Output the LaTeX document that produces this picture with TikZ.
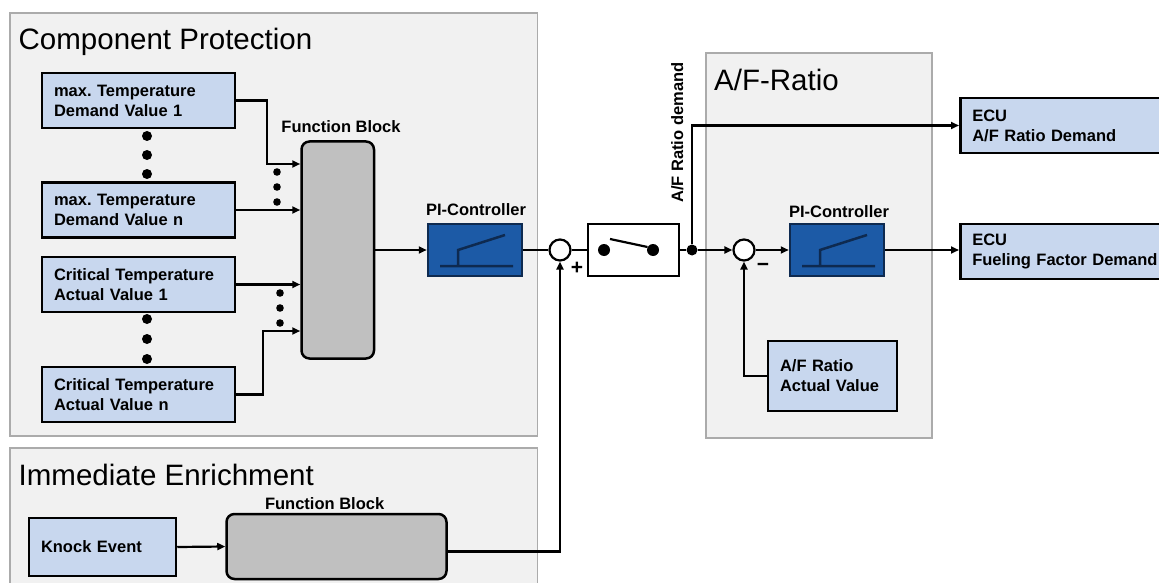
\documentclass[tikz,border=0pt]{standalone}
\usepackage{fontspec}
\setmainfont{Liberation Sans}
\usetikzlibrary{arrows.meta,calc}
\frenchspacing
\definecolor{panelfill}{HTML}{F1F1F1}
\definecolor{panelline}{HTML}{ABABAB}
\definecolor{boxblue}{HTML}{C8D7EE}
\definecolor{pifill}{HTML}{1C5AA6}
\definecolor{piline}{HTML}{0E2A50}
\definecolor{fbgray}{HTML}{C0C0C0}
\tikzset{
  panel/.style={draw=panelline, fill=panelfill, line width=1.5pt},
  title/.style={font=\fontsize{29.5}{34}\selectfont, anchor=base west, inner sep=0pt},
  lbl/.style={font=\fontsize{16.5}{19}\selectfont\bfseries, anchor=base, inner sep=0pt},
  srcbox/.style={draw=black, line width=2.5pt, fill=boxblue, align=left,
    inner xsep=12pt, inner ysep=0pt, text width=#1,
    font=\fontsize{16.5}{20}\selectfont\bfseries},
  fblock/.style={draw=black, line width=2.5pt, fill=fbgray, rounded corners=8pt},
  piblock/.style={draw=piline, line width=2.5pt, fill=pifill,
    minimum width=94pt, minimum height=52pt},
  sumnode/.style={circle, draw=black, line width=2.2pt, fill=white,
    minimum size=21pt, inner sep=0pt},
  conn/.style={line width=2.2pt},
  arr/.style={conn, -{Triangle[length=8pt,width=7pt]}},
  sign/.style={font=\fontsize{21}{21}\selectfont\bfseries, inner sep=0pt},
  pisym/.pic={\draw[piline, line width=2.5pt] (-35,16) -- (38,16)
      (-17,16) -- (-17,0) -- (30,-15);}
}
\begin{document}
\begin{tikzpicture}[x=1pt,y=-1pt]
\clip (0,0) rectangle (1159,583);
\fill[white] (0,0) rectangle (1159,583);

% group panels
\draw[panel] (10,13) rectangle (537.5,436);
\draw[panel] (10,448) rectangle (537.5,600);
\draw[panel] (706,53) rectangle (932,438);
\node[title] (t1) at (18.5,50) {Component Protection};
\node[title] (t2) at (18.5,485) {Immediate Enrichment};
\node[title] (t3) at (714,91) {A/F-Ratio};

% component protection inputs
\node[srcbox=169pt, minimum height=55pt] (b1) at (138.5,100.5) {max. Temperature\\Demand Value 1};
\node[srcbox=169pt, minimum height=55pt] (b2) at (138.5,210) {max. Temperature\\Demand Value n};
\node[srcbox=169pt, minimum height=55pt] (b3) at (138.5,284.5) {Critical Temperature\\Actual Value 1};
\node[srcbox=169pt, minimum height=55pt] (b4) at (138.5,394.5) {Critical Temperature\\Actual Value n};
\foreach \y in {136,155,174,319,339,359} \fill (147,\y) circle[radius=5pt];
\foreach \y in {172,187,202} \fill (277,\y) circle[radius=3.8pt];
\foreach \y in {293,308,323} \fill (280,\y) circle[radius=3.8pt];

% function block and first controller
\node[fblock, minimum width=72.5pt, minimum height=217pt] (fb) at (337.75,250) {};
\node[lbl] (fbl) at (341,132) {Function Block};
\node[piblock] (pi1) at (475,250) {};
\pic at (pi1) {pisym};
\node[lbl] (pi1l) at (476,215) {PI-Controller};
\node[sumnode] (sum1) at (560,250) {};
\node[sign] (plus) at (577,268) {+};

% switch
\node[draw=black, line width=2.5pt, fill=white, minimum width=91pt, minimum height=52pt] (sw) at (633.5,250) {};
\fill ($(sw)+(-29.5,0)$) circle[radius=6pt];
\fill ($(sw)+(19.5,0)$) circle[radius=6pt];
\draw[line width=2.2pt] ($(sw)+(-23.5,-11)$) -- ($(sw)+(14,-3)$);

% A/F ratio loop
\node[circle, fill=black, minimum size=11pt, inner sep=0pt] (jn) at (692,250) {};
\node[lbl, rotate=90, anchor=base west] (afd) at (683,203) {A/F Ratio demand};
\node[sumnode] (sum2) at (744,250) {};
\node[sign] (minus) at (763,267) {\char"2212};
\node[piblock] (pi2) at (837,250) {};
\pic at (pi2) {pisym};
\node[lbl] (pi2l) at (839,217) {PI-Controller};
\node[srcbox=105pt, minimum height=70pt] (afa) at (832.5,376) {A/F Ratio\\Actual Value};

% ECU outputs
\node[srcbox=198pt, minimum height=55pt, anchor=west] (ecu1) at (959,125.5) {ECU\\A/F Ratio Demand};
\node[srcbox=198pt, minimum height=55pt, anchor=west] (ecu2) at (959,251.5) {ECU\\Fueling Factor Demand};

% immediate enrichment
\node[srcbox=123pt, minimum height=58pt] (knock) at (102.5,547) {Knock Event};
\node[fblock, minimum width=220pt, minimum height=65pt] (fb2) at (336.5,546.5) {};
\node[lbl] (fb2l) at (324.6,509) {Function Block};

% signal lines
\draw[arr] (b1.east) -- ++(31,0) |- ($(fb.west)+(0,-86)$);
\draw[arr] (b2.east) -- (b2.east -| fb.west);
\draw[arr] (b3.east) -- (b3.east -| fb.west);
\draw[arr] (b4.east) -- ++(27,0) |- ($(fb.west)+(0,81)$);
\draw[arr] (fb.east) -- (pi1.west);
\draw[conn] (pi1.east) -- (sum1.west);
\draw[conn] (sum1.east) -- (sw.west);
\draw[conn] (sw.east) -- (jn);
\draw[arr] (jn) -- (sum2.west);
\draw[arr] (sum2.east) -- (pi2.west);
\draw[arr] (pi2.east) -- (pi2.east -| ecu2.west);
\draw[arr] (jn) |- (ecu1.west);
\draw[arr] (knock.east) -- (fb2.west);
\draw[arr] ($(fb2.east)+(0,5)$) -| (sum1.south);
\draw[arr] (afa.west) -| (sum2.south);
\end{tikzpicture}
\end{document}
